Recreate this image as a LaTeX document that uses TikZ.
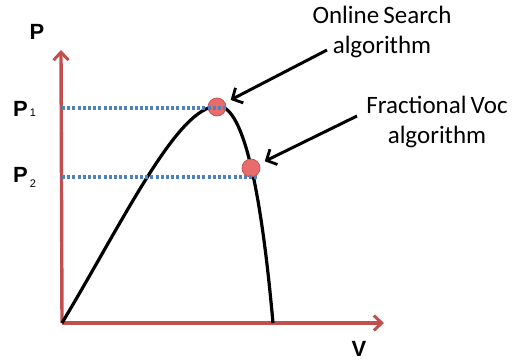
\documentclass[tikz,border=0pt]{standalone}
\usepackage{fontspec}
\setmainfont{Carlito}
\newfontfamily\axisfont{Liberation Sans}
\usetikzlibrary{arrows.meta,positioning}
\definecolor{axisred}{RGB}{192,80,77}
\definecolor{dotblue}{RGB}{79,129,189}
\definecolor{dotfill}{RGB}{232,108,108}

\begin{document}
\begin{tikzpicture}[
  x=1pt, y=-1pt,
  axis/.style={draw=axisred, line width=3.4pt, -{Straight Barb[length=8pt, width=15pt, line width=3pt]}},
  curve/.style={draw=black, line width=3.2pt},
  level/.style={draw=dotblue, line width=3.2pt, dash pattern=on 3pt off 2.2pt},
  pointer/.style={draw=black, line width=3pt, -{Straight Barb[length=8pt, width=17pt, line width=2.8pt]}, shorten >=6pt},
  dot/.style={circle, draw=axisred, fill=dotfill, line width=0.7pt, minimum size=18pt, inner sep=0pt},
  note/.style={align=center, font=\fontsize{25}{29.5}\selectfont},
  plabel/.style={font=\axisfont\bfseries\fontsize{22}{24}\selectfont, inner sep=0pt}
]
\useasboundingbox (0,0) rectangle (512,360);

% axes
\coordinate (O) at (62,323);
\coordinate (ytip) at (61,50);
\coordinate (xtip) at (384,323);
\draw[axis] (O) -- (ytip);
\draw[axis] (O) -- (xtip);
\node[plabel] (Plab) at (37,32) {P};
\node[plabel] (Vlab) at (359,349) {V};

% P-V curve
\draw[curve] (O) .. controls (126,216) and (178,106) .. (218,106)
  .. controls (245,106) and (262,200) .. (273,323);

% operating points
\node[dot] (mpp) at (217,107) {};
\node[dot] (fvoc) at (251,168) {};

% levels
\node[plabel, anchor=base west] (P1) at (13,116) {P\hspace{2pt}{\mdseries\fontsize{11}{12}\selectfont 1}};
\node[plabel, anchor=base west] (P2) at (13,182) {P\hspace{2pt}\raisebox{-5pt}{\mdseries\fontsize{11}{12}\selectfont 2}};
\coordinate (y1) at (62,108);
\coordinate (y1end) at (226,108);
\coordinate (y2) at (62,177);
\coordinate (y2end) at (259,177);
\draw[level] (y1) -- (y1end);
\draw[level] (y2) -- (y2end);

% annotations
\node[note] (online) at (382,32) {Online\,Search\\algorithm};
\node[note] (fracvoc) at (437,122) {Fractional\,Voc\\algorithm};
\coordinate (onlineTail) at (327,50);
\coordinate (fracTail) at (357,116);
\draw[pointer] (onlineTail) -- (mpp);
\draw[pointer] (fracTail) -- (fvoc);
\end{tikzpicture}
\end{document}
